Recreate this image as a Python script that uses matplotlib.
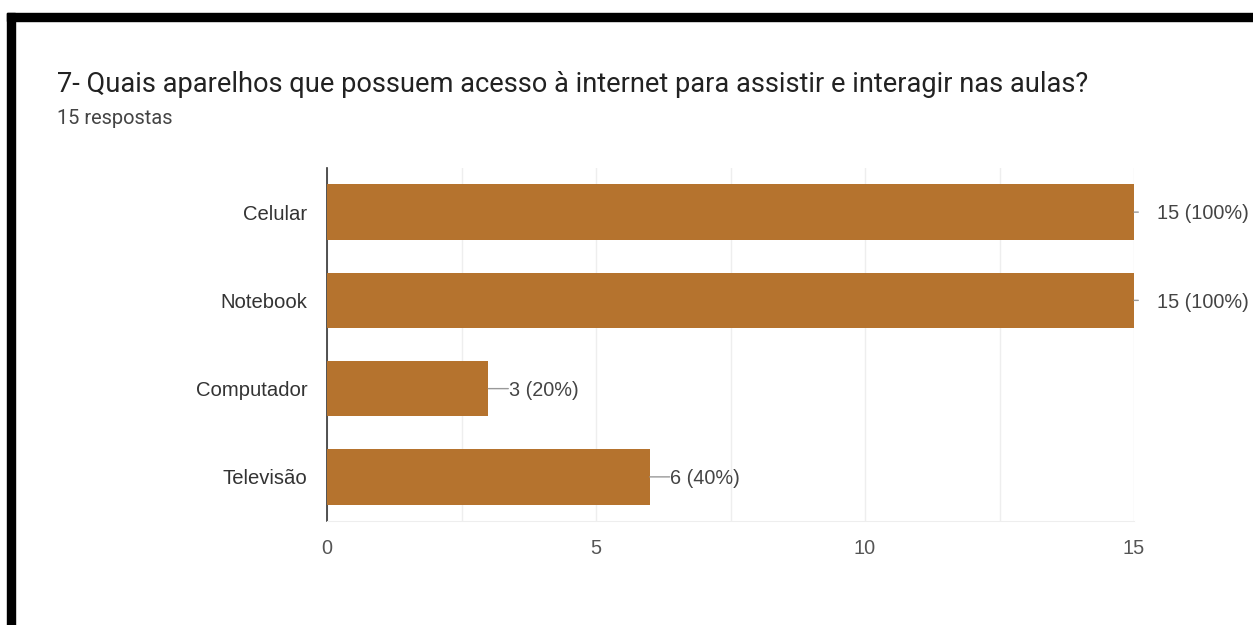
import numpy as np
import matplotlib.pyplot as plt
from matplotlib.patches import Rectangle

# data
categorias = ["Celular", "Notebook", "Computador", "Televisão"]
respostas = [15, 15, 3, 6]
total = 15
titulo = "7- Quais aparelhos que possuem acesso à internet para assistir e interagir nas aulas?"
subtitulo = "15 respostas"

cor_barra = "#b5732e"
cor_texto = "#444444"
cor_grade = "#eeeeee"

plt.rcParams['font.family'] = ['Liberation Sans', 'DejaVu Sans']

fig = plt.figure(figsize=(12.53, 6.25), dpi=100)
W, H = 1253, 625

# black frame (screenshot border)
fig.patches.append(Rectangle((7 / W, 1 - 21 / H), 1 - 7 / W, 8 / H, transform=fig.transFigure,
                             color="black", zorder=0))
fig.patches.append(Rectangle((7 / W, 0), 8 / W, 1 - 13 / H, transform=fig.transFigure,
                             color="black", zorder=0))

fig.text(57 / W, 1 - 85 / H, titulo, fontsize=19.6, color="#222222", va="center", ha="left",
         family=["Roboto", "DejaVu Sans"])
fig.text(57 / W, 1 - 119 / H, subtitulo, fontsize=14.4, color="#444444", va="center", ha="left",
         family=["Roboto", "DejaVu Sans"])

ax = fig.add_axes([327 / W, 1 - 521 / H, (1134 - 327) / W, (521 - 168) / H])
y = np.arange(len(categorias))
ax.barh(y, respostas, height=0.63, color=cor_barra, zorder=3)
ax.set_xlim(0, 15)
ax.set_ylim(len(categorias) - 0.5, -0.5)

ax.set_yticks(y)
ax.set_yticklabels(categorias, fontsize=14.6, color="#333333")
ax.set_xticks([0, 5, 10, 15])
ax.set_xticklabels(["0", "5", "10", "15"], fontsize=14.3, color="#555555")
ax.set_xticks([2.5, 7.5, 12.5], minor=True)
ax.tick_params(axis="both", which="both", length=0)
ax.tick_params(axis="x", pad=13)
ax.tick_params(axis="y", pad=14)
ax.grid(axis="x", which="both", color=cor_grade, linewidth=1, zorder=0)

for s in ["top", "right"]:
    ax.spines[s].set_visible(False)
ax.spines["bottom"].set_color(cor_grade)
ax.spines["left"].set_color("#333333")
ax.spines["left"].set_linewidth(1.2)

for yi, v in zip(y, respostas):
    rotulo = f"{v} ({round(100 * v / total)}%)"
    traco = 0.37 if v < total else 0.08
    ax.annotate("", xy=(v, yi), xytext=(v + traco, yi),
                arrowprops=dict(arrowstyle="-", color="#999999", lw=1, shrinkA=0, shrinkB=0),
                annotation_clip=False)
    ax.text(v + (0.38 if v < total else 0.42), yi + 0.02, rotulo, fontsize=14.3, color=cor_texto,
            va="center", ha="left", clip_on=False)

fig.savefig("out.png", dpi=100)
